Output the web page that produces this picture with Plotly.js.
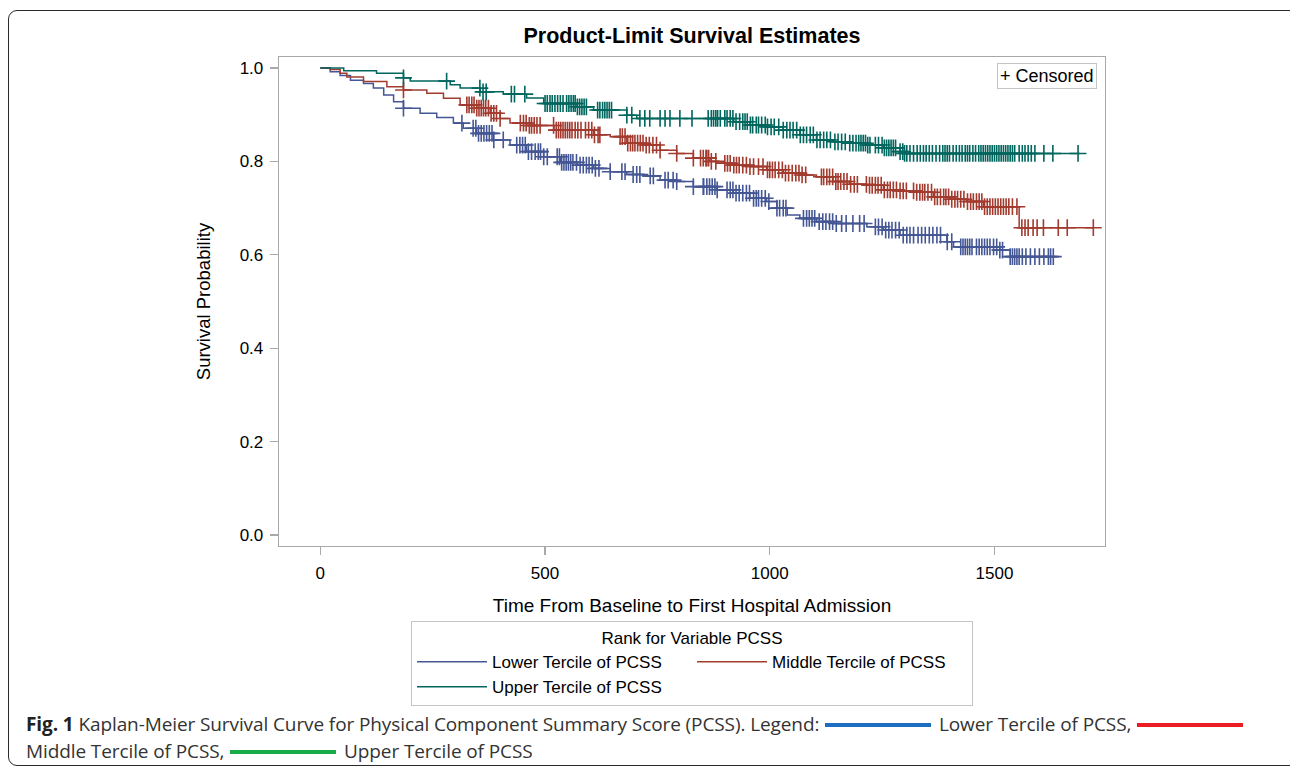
<!DOCTYPE html>
<html>
<head>
<meta charset="utf-8">
<script src="https://cdn.plot.ly/plotly-3.0.1.min.js"></script>
<style>
  html, body { margin: 0; padding: 0; background: #fff; width: 1290px; height: 768px; overflow: hidden; }
  #chart { position: absolute; left: 0; top: 0; width: 1290px; height: 768px; }
  #frame { position: absolute; left: 8px; top: 10px; width: 1290px; height: 756px; border: 1.6px solid #2a2a2a; border-radius: 9px; box-sizing: border-box; pointer-events: none; }
  #caption { position: absolute; left: 26px; top: 711px; font-family: "Open Sans", sans-serif; font-size: 19px; line-height: 27px; color: #333; white-space: nowrap; letter-spacing: -0.1px; }
  #caption b { color: #222; }
  .sw { display: inline-block; width: 106px; height: 4px; vertical-align: middle; margin: 0 3px 0 1px; position: relative; top: -1px; }
</style>
</head>
<body>
<div id="chart"></div>
<div id="frame"></div>
<div id="caption"><b>Fig. 1</b> Kaplan-Meier Survival Curve for Physical Component Summary Score (PCSS). Legend: <span class="sw" style="background:#1b6ec2"></span> Lower Tercile of PCSS, <span class="sw" style="background:#ec1c24"></span><br>Middle Tercile of PCSS, <span class="sw" style="background:#1aab4a"></span> Upper Tercile of PCSS</div>
<script>
// ---------- data ----------
const seriesNames = ["Lower Tercile of PCSS", "Middle Tercile of PCSS", "Upper Tercile of PCSS"];
const seriesColors = ["#445694", "#A23A2E", "#01665E"];

// Lower tercile: event times and survival estimates
const lowerTimes = [0,22,44,67,96,118,141,163,185,222, 259,296,318,348,385,422,459,497,534,571, 608,645,682,719,756,793,830,882,919,956, 993,1016,1039,1067,1104,1141,1216,1253,1290,1394, 1409,1512,1535,1631];
const lowerSurv  = [1.0,0.992,0.984,0.974,0.967,0.957,0.942,0.928,0.914,0.903, 0.894,0.882,0.871,0.860,0.846,0.835,0.821,0.810,0.798,0.792, 0.785,0.778,0.772,0.769,0.760,0.757,0.746,0.739,0.732,0.721, 0.714,0.700,0.685,0.678,0.671,0.667,0.660,0.653,0.642,0.628, 0.617,0.610,0.596,0.596];
const lowerCensored = [185,315,340,346,352,358,364,370,376,382,386,407,437,444,450,456,463,470,478,485,490,497,505,527,532,537,542,547,552,557,562,570,578,585,592,598,605,612,620,645,671,678,696,704,711,734,741,767,774,785,793,830,852,853,860,866,872,878,883,905,912,918,925,932,940,948,955,964,970,975,982,990,998,1016,1022,1030,1036,1075,1082,1088,1094,1100,1110,1118,1125,1133,1140,1148,1160,1170,1185,1200,1210,1235,1242,1250,1258,1265,1272,1280,1288,1297,1305,1312,1320,1330,1338,1346,1355,1363,1372,1380,1395,1405,1425,1430,1435,1440,1445,1450,1460,1466,1472,1478,1484,1490,1498,1505,1512,1518,1535,1540,1545,1550,1555,1562,1570,1580,1590,1600,1610,1620,1625,1631];

// Middle tercile
const middleTimes = [0,22,44,59,96,148,185,237,274,311, 348,378,400,422,459,520,608,645,682,719, 756,793,830,867,882,919,956,993,1030,1067, 1104,1141,1178,1216,1253,1290,1327,1364,1401,1438, 1476,1555,1721];
const middleSurv  = [1.0,0.997,0.989,0.981,0.971,0.960,0.953,0.946,0.935,0.921, 0.914,0.903,0.892,0.882,0.877,0.867,0.857,0.853,0.839,0.835, 0.824,0.817,0.807,0.800,0.796,0.792,0.789,0.782,0.775,0.771, 0.767,0.757,0.751,0.749,0.739,0.737,0.734,0.724,0.719,0.714, 0.703,0.658,0.658];
const middleCensored = [185,326,331,337,342,348,353,358,363,368,374,380,386,392,400,445,452,458,465,470,476,482,489,519,525,530,535,540,545,550,555,560,567,573,580,590,597,604,610,618,622,667,672,678,684,690,695,700,706,712,718,725,732,740,748,756,793,830,846,852,858,860,864,870,880,900,906,912,920,926,932,940,948,956,964,975,985,995,1000,1006,1012,1020,1028,1035,1042,1050,1058,1065,1072,1080,1115,1120,1127,1133,1140,1147,1152,1158,1165,1172,1180,1188,1195,1215,1222,1228,1235,1241,1248,1255,1262,1268,1275,1282,1290,1297,1304,1320,1327,1334,1340,1345,1352,1360,1367,1373,1380,1387,1392,1398,1405,1412,1418,1425,1432,1440,1447,1453,1460,1466,1472,1478,1484,1490,1496,1502,1508,1514,1520,1526,1532,1540,1550,1561,1568,1575,1586,1595,1609,1642,1662,1720];

// Upper tercile
const upperTimes = [0,52,125,185,200,289,311,356,407,459, 497,571,608,682,704,920,956,993,1030,1067, 1104,1141,1178,1216,1253,1290,1300,1690];
const upperSurv  = [1.0,0.994,0.989,0.979,0.972,0.964,0.957,0.949,0.944,0.936, 0.924,0.917,0.910,0.899,0.892,0.885,0.878,0.874,0.867,0.857, 0.846,0.842,0.839,0.835,0.829,0.821,0.817,0.817];
const upperCensored = [185,281,355,362,369,425,432,455,500,505,511,516,522,528,534,540,548,553,558,563,567,572,577,582,587,592,617,622,628,633,638,643,648,682,693,711,722,733,756,767,778,800,827,863,870,875,880,884,890,900,905,912,918,925,933,940,945,950,957,962,970,975,982,990,995,1003,1010,1020,1030,1038,1045,1052,1060,1068,1075,1082,1090,1097,1105,1112,1120,1127,1135,1145,1152,1160,1168,1178,1185,1192,1198,1203,1208,1213,1218,1223,1235,1242,1250,1255,1260,1265,1270,1275,1280,1290,1296,1300,1305,1312,1320,1328,1335,1342,1348,1355,1362,1370,1378,1385,1390,1395,1400,1408,1415,1422,1428,1435,1440,1445,1452,1458,1465,1470,1475,1480,1485,1490,1495,1500,1505,1510,1515,1520,1525,1530,1535,1540,1545,1555,1562,1568,1575,1582,1590,1610,1630,1686];

const xTickVals = [0, 500, 1000, 1500];
const yTickVals = [0.0, 0.2, 0.4, 0.6, 0.8, 1.0];

// ---------- build traces ----------
function survAt(times, surv, t) {
  let v = surv[0];
  for (let i = 0; i < times.length; i++) { if (times[i] <= t) v = surv[i]; else break; }
  return v;
}

const groups = [
  {times: lowerTimes, surv: lowerSurv, cens: lowerCensored},
  {times: middleTimes, surv: middleSurv, cens: middleCensored},
  {times: upperTimes, surv: upperSurv, cens: upperCensored}
];

const traces = [];
groups.forEach((g, i) => {
  traces.push({
    type: 'scatter', mode: 'lines', name: seriesNames[i],
    x: g.times, y: g.surv,
    line: {shape: 'hv', color: seriesColors[i], width: 1.5},
    legendrank: i + 1,
    hoverinfo: 'skip'
  });
});
groups.forEach((g, i) => {
  traces.push({
    type: 'scatter', mode: 'markers', showlegend: false,
    x: g.cens, y: g.cens.map(t => survAt(g.times, g.surv, t)),
    marker: {symbol: 'cross-thin', size: 12, color: seriesColors[i], line: {color: seriesColors[i], width: 1.6}},
    hoverinfo: 'skip'
  });
});

const FAM = 'Liberation Sans, Arial, sans-serif';
const tickFont = {family: FAM, size: 17, color: '#000'};
const legFont = {family: FAM, size: 17, color: '#000'};

const layout = {
  width: 1290, height: 768,
  margin: {l: 279, r: 185, t: 57, b: 222, pad: 0},
  paper_bgcolor: '#fff', plot_bgcolor: '#fff',
  font: tickFont,
  title: {
    text: '<b>Product-Limit Survival Estimates</b>',
    font: {family: FAM, size: 21.5, color: '#000'},
    x: 0.5, xref: 'paper', y: 1 - 35/768, yref: 'container', yanchor: 'middle', xanchor: 'center'
  },
  xaxis: {
    range: [-92, 1746], tickvals: xTickVals, ticktext: xTickVals.map(String),
    showgrid: false, zeroline: false, showline: true, mirror: true,
    linecolor: '#a9a9a9', linewidth: 1.3, ticks: 'outside', ticklen: 8, tickcolor: '#a9a9a9', tickwidth: 1.3,
    tickfont: tickFont, ticklabelstandoff: 3,
    title: {text: 'Time From Baseline to First Hospital Admission', font: {family: FAM, size: 19, color: '#000'}, standoff: 17}
  },
  yaxis: {
    range: [-0.0236, 1.0236], tickvals: yTickVals, tickformat: '.1f',
    showgrid: false, zeroline: false, showline: true, mirror: true,
    linecolor: '#a9a9a9', linewidth: 1.3, ticks: 'outside', ticklen: 8, tickcolor: '#a9a9a9', tickwidth: 1.3,
    tickfont: tickFont, ticklabelstandoff: 3,
    title: {text: 'Survival Probability', font: {family: FAM, size: 18.5, color: '#000'}, standoff: 24}
  },
  showlegend: true,
  legend: {
    orientation: 'h', x: 0.5, xanchor: 'center', xref: 'paper',
    y: -(621 - 546) / 489, yanchor: 'top', yref: 'paper',
    bgcolor: '#fff', bordercolor: '#c4c4c4', borderwidth: 1,
    font: legFont, itemwidth: 70, entrywidth: 195, entrywidthmode: 'pixels',
    title: {text: 'Rank for Variable PCSS', side: 'top center', font: legFont},
    traceorder: 'normal', tracegroupgap: 0
  },
  annotations: [{
    xref: 'paper', yref: 'paper', x: (1097 - 279) / 826, y: (546 - 63) / 489,
    xanchor: 'right', yanchor: 'top', showarrow: false,
    text: '+ Censored', font: {family: FAM, size: 18, color: '#000'},
    bordercolor: '#c4c4c4', borderwidth: 1, borderpad: 2, bgcolor: '#fff'
  }]
};

Plotly.newPlot('chart', traces, layout, {displayModeBar: false, staticPlot: true});
</script>
</body>
</html>
